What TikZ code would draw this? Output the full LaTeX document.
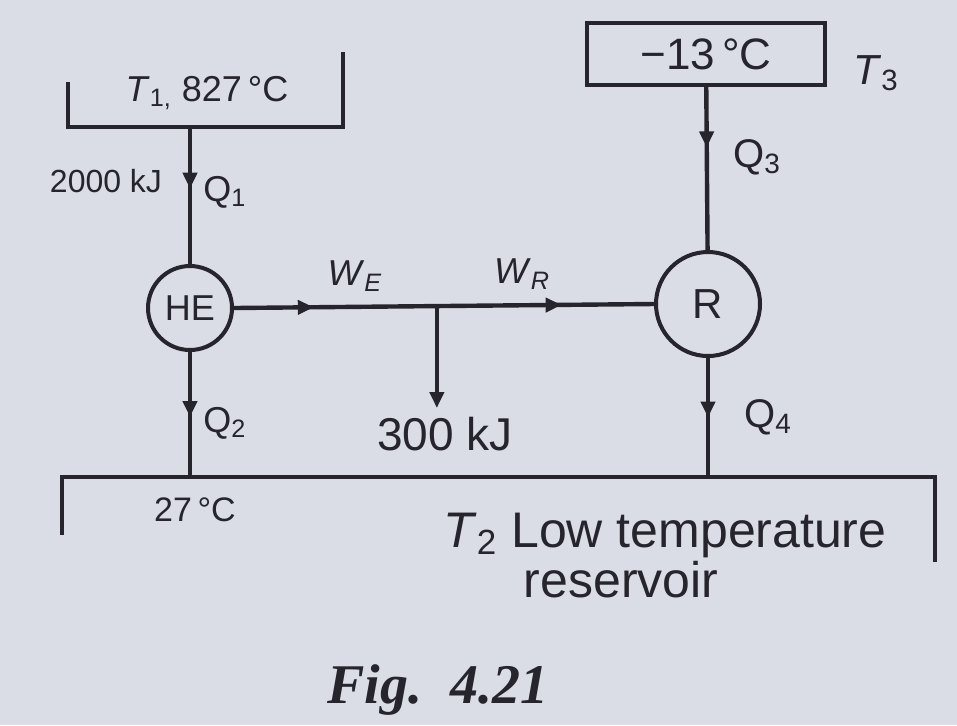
\documentclass[tikz,border=0pt]{standalone}
\usepackage{fontspec}
\setmainfont{Liberation Sans}
\newfontfamily\captionfont{Liberation Serif}
\usetikzlibrary{calc,positioning,arrows.meta,decorations.markings}
\usepackage{xcolor}
\definecolor{paper}{RGB}{218,220,230}
\definecolor{ink}{RGB}{38,36,44}

\newcommand{\fsz}[1]{\fontsize{#1}{#1}\selectfont}

\tikzset{
    flow/.style={postaction={decorate,decoration={markings,
        mark=at position #1 with {\arrow{Triangle[length=8pt,width=7pt]}}}}},
    wall/.style={draw=ink, line width=2.2pt},
    engine/.style={circle, draw=ink, line width=2pt, inner sep=0pt},
    lbl/.style={font=\fsz{#1}, inner sep=0pt},
}

\begin{document}
\begin{tikzpicture}[x=0.5pt, y=-0.5pt, color=ink, line width=2.2pt]
    % 背景和边界
    \fill[paper] (0,0) rectangle (957,725);
    \useasboundingbox (0,0) rectangle (957,725);

    % 高温热源 T1
    \draw[wall] (68,82) -- (68,127) -- (343,127) -- (343,52);
    \node[lbl=18] (hotlbl) at (207,93) {\textit{T}\textsubscript{1,} 827\,°C};
    \coordinate (hotout) at (190,127);

    % 冷库 -13 °C
    \node[draw=ink, line width=2.2pt, minimum width=119pt, minimum height=31pt,
          font=\fsz{22}] (cold) at (706,54) {−13\,°C};
    \node[lbl=21] (coldlbl) at (876,73) {\textit{T}\textsubscript{3}};

    % 热机 HE 和制冷机 R
    \node[engine, minimum size=42pt, font=\fsz{18}] (HE) at (190,308) {HE};
    \node[engine, minimum size=52pt, font=\fsz{21}] (R) at (708,304) {R};

    % 低温热源 T2
    \draw[wall] (62,535) -- (62,477) -- (935,477) -- (935,562);
    \coordinate (sinkHE) at (190,477);
    \coordinate (sinkR) at (708,477);

    % 热流 Q1 ~ Q4
    \draw[flow=0.45] (hotout) -- (HE);
    \draw[flow=0.52] (HE) -- (sinkHE);
    \draw[flow=0.37] (cold) -- (R);
    \draw[flow=0.5] (R) -- (sinkR);

    % 功 W_E, W_R 和净功
    \draw[flow=0.19, flow=0.78] (HE.east) -- (R.west);
    \coordinate (split) at ($(HE.east)!0.483!(R.west)$);
    \coordinate (net) at (split |- 0,408);
    \draw[-{Triangle[length=8pt,width=7pt]}] (split) -- (net);

    % 标注
    \node[lbl=16] (qin) at (106,181) {2000 kJ};
    \node[lbl=18] (q1) at (225,192) {Q\textsubscript{1}};
    \node[lbl=18] (q2) at (225,423) {Q\textsubscript{2}};
    \node[lbl=20] (q3) at (757,157) {Q\textsubscript{3}};
    \node[lbl=20] (q4) at (768,417) {Q\textsubscript{4}};
    \node[lbl=18] (we) at (355,276) {\textit{W}\textsubscript{\textit{E}}};
    \node[lbl=18] (wr) at (522,274) {\textit{W}\textsubscript{\textit{R}}};
    \node[lbl=23] (wnet) at (445,434) {300 kJ};
    \node[lbl=17] (sinklbl) at (195,510) {27\,°C};
    \node[lbl=25] (lowlbl) at (665,535) {\textit{T}\textsubscript{2} Low temperature};
    \node[lbl=25] (reslbl) at (621,580) {reservoir};

    % 图号
    \node[font=\captionfont\bfseries\itshape\fsz{28}] (figlbl) at (438,690) {Fig.\ \ 4.21};
\end{tikzpicture}
\end{document}
